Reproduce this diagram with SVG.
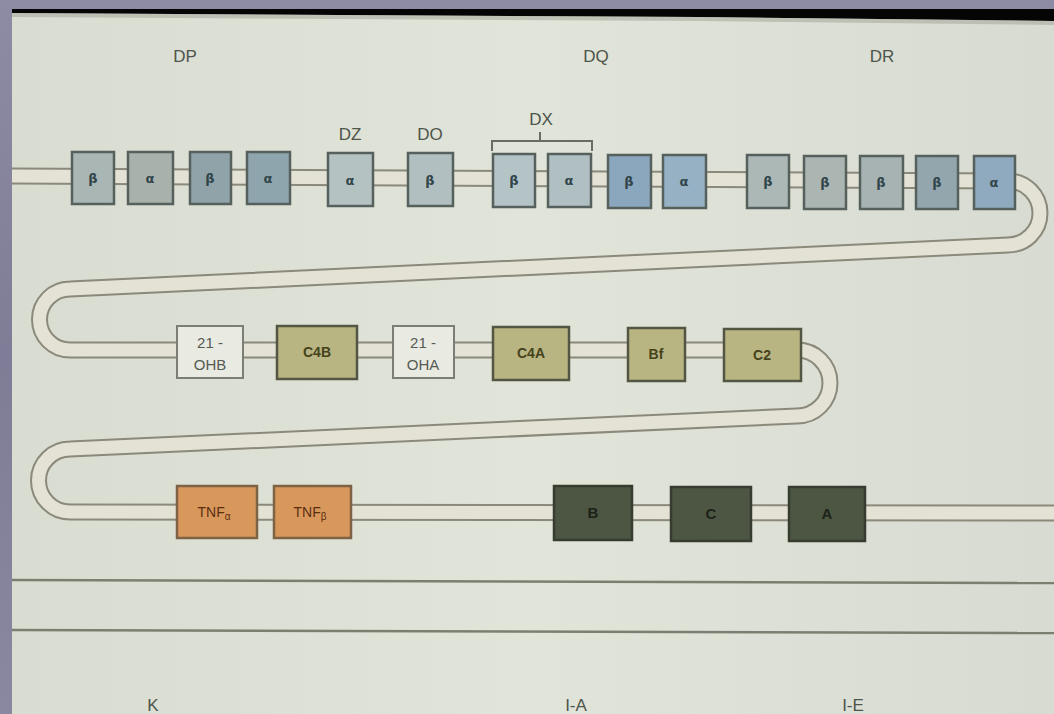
<svg xmlns="http://www.w3.org/2000/svg" width="1054" height="714" viewBox="0 0 1054 714">
<defs>
<linearGradient id="bg" x1="0" y1="0" x2="1" y2="0">
<stop offset="0" stop-color="#d9dcd1"/>
<stop offset="0.5" stop-color="#e1e4d9"/>
<stop offset="1" stop-color="#d8dbd1"/>
</linearGradient>
<linearGradient id="frame" x1="0" y1="0" x2="0" y2="1">
<stop offset="0" stop-color="#8e8ba4"/>
<stop offset="0.5" stop-color="#7f7c97"/>
<stop offset="1" stop-color="#8a87a0"/>
</linearGradient>
<style>
.lbl{font-family:"Liberation Sans",Arial,sans-serif;font-size:17px;fill:#4e554b;text-anchor:middle}
.bx{stroke:#56605c;stroke-width:2.5}
.gk{font-family:"DejaVu Sans",sans-serif;font-size:13px;fill:#30454a;text-anchor:middle;font-weight:bold}
.wt{fill:#e9ebe3;stroke:#7a7e74;stroke-width:2}
.wt-t{font-family:"Liberation Sans",Arial,sans-serif;font-size:15px;fill:#555a52;text-anchor:middle}
.ol{fill:#b8b582;stroke:#545644;stroke-width:2.5}
.ol-t{font-family:"Liberation Sans",Arial,sans-serif;font-size:14px;fill:#45421c;text-anchor:middle;font-weight:bold}
.or{fill:#d8975b;stroke:#7d6243;stroke-width:2.5}
.or-t{font-family:"Liberation Sans",Arial,sans-serif;font-size:14px;fill:#5a2e10;text-anchor:middle}
.dk{fill:#4c5643;stroke:#363d30;stroke-width:2.5}
.dk-t{font-family:"Liberation Sans",Arial,sans-serif;font-size:15px;fill:#1c2217;text-anchor:middle;font-weight:bold}
.trk-o{fill:none;stroke:#8a897a;stroke-width:17}
.trk-i{fill:none;stroke:#e4e2d5;stroke-width:13}
.rule{stroke:#7b7f70;stroke-width:2.5;fill:none}
</style>
</defs>
<rect x="0" y="0" width="1054" height="714" fill="url(#frame)"/>
<rect x="12" y="9" width="1042" height="705" fill="url(#bg)"/>
<polygon points="12,9 1054,9 1054,21 700,17 12,13" fill="#050505"/>
<polygon points="12,13 700,17 1054,21 1054,25 700,21 12,17" fill="#a9ac9e" opacity="0.6"/>

<g id="connectors">
<path class="trk-o" d="M12,176 L1008,181 A32,32 0 0 1 1008,245 L70,289 A30.5,30.5 0 0 0 70,350 L797,350 A33,33 0 0 1 797,416 L70,449 A31.5,31.5 0 0 0 70,512 L1054,513"/>
<path class="trk-i" d="M12,176 L1008,181 A32,32 0 0 1 1008,245 L70,289 A30.5,30.5 0 0 0 70,350 L797,350 A33,33 0 0 1 797,416 L70,449 A31.5,31.5 0 0 0 70,512 L1054,513"/>
<path class="rule" d="M12,580 L1054,583"/>
<path class="rule" d="M12,630 L1054,633"/>
<path d="M492,151 V141 H592 V151 M540,141 V132" fill="none" stroke="#686c62" stroke-width="2"/>
</g>

<g id="labels">
<text class="lbl" x="185" y="62">DP</text>
<text class="lbl" x="596" y="62">DQ</text>
<text class="lbl" x="882" y="62">DR</text>
<text class="lbl" x="350" y="140">DZ</text>
<text class="lbl" x="430" y="140">DO</text>
<text class="lbl" x="541" y="125">DX</text>
<text class="lbl" x="153" y="711">K</text>
<text class="lbl" x="576" y="711">I-A</text>
<text class="lbl" x="853" y="711">I-E</text>
</g>

<g id="dp-b1"><rect class="bx" x="72" y="152" width="42" height="52" fill="#a9b6b3"/><text class="gk" x="93" y="183">β</text></g>
<g id="dp-a1"><rect class="bx" x="128" y="152" width="45" height="52" fill="#a8b1ac"/><text class="gk" x="150" y="183">α</text></g>
<g id="dp-b2"><rect class="bx" x="190" y="152" width="41" height="52" fill="#8fa3a8"/><text class="gk" x="210" y="183">β</text></g>
<g id="dp-a2"><rect class="bx" x="247" y="152" width="43" height="52" fill="#8ea5ae"/><text class="gk" x="268" y="183">α</text></g>
<g id="dz-a"><rect class="bx" x="328" y="153" width="45" height="53" fill="#b5c2c2"/><text class="gk" x="350" y="185">α</text></g>
<g id="do-b"><rect class="bx" x="408" y="153" width="45" height="53" fill="#b1bfc0"/><text class="gk" x="430" y="185">β</text></g>
<g id="dx-b"><rect class="bx" x="493" y="154" width="42" height="53" fill="#b4c3c6"/><text class="gk" x="514" y="185">β</text></g>
<g id="dx-a"><rect class="bx" x="548" y="154" width="43" height="53" fill="#b0bfc2"/><text class="gk" x="569" y="185">α</text></g>
<g id="dq-b"><rect class="bx" x="608" y="155" width="43" height="53" fill="#8aa7bd"/><text class="gk" x="629" y="186">β</text></g>
<g id="dq-a"><rect class="bx" x="663" y="155" width="43" height="53" fill="#96b1c4"/><text class="gk" x="684" y="186">α</text></g>
<g id="dr-b1"><rect class="bx" x="747" y="155" width="42" height="53" fill="#abb8b6"/><text class="gk" x="768" y="186">β</text></g>
<g id="dr-b2"><rect class="bx" x="804" y="156" width="42" height="53" fill="#abb6b3"/><text class="gk" x="825" y="187">β</text></g>
<g id="dr-b3"><rect class="bx" x="860" y="156" width="43" height="53" fill="#a6b3b2"/><text class="gk" x="881" y="187">β</text></g>
<g id="dr-b4"><rect class="bx" x="916" y="156" width="42" height="53" fill="#93a6ae"/><text class="gk" x="937" y="187">β</text></g>
<g id="dr-a"><rect class="bx" x="974" y="156" width="41" height="53" fill="#8fa9be"/><text class="gk" x="994" y="187">α</text></g>

<g id="ohb"><rect class="wt" x="177" y="326" width="66" height="52"/><text class="wt-t" x="210" y="348">21 -</text><text class="wt-t" x="210" y="370">OHB</text></g>
<g id="c4b"><rect class="ol" x="277" y="326" width="80" height="53"/><text class="ol-t" x="317" y="357">C4B</text></g>
<g id="oha"><rect class="wt" x="393" y="326" width="61" height="52"/><text class="wt-t" x="423" y="348">21 -</text><text class="wt-t" x="423" y="370">OHA</text></g>
<g id="c4a"><rect class="ol" x="493" y="327" width="76" height="53" fill="#bcb986"/><text class="ol-t" x="531" y="358">C4A</text></g>
<g id="bf"><rect class="ol" x="628" y="328" width="57" height="53"/><text class="ol-t" x="656" y="359">Bf</text></g>
<g id="c2"><rect class="ol" x="724" y="329" width="77" height="52" fill="#bab380"/><text class="ol-t" x="762" y="360">C2</text></g>

<g id="tnfa"><rect class="or" x="177" y="486" width="80" height="52"/><text class="or-t" x="214" y="517">TNF<tspan font-size="10" dy="3">α</tspan></text></g>
<g id="tnfb"><rect class="or" x="274" y="486" width="77" height="52"/><text class="or-t" x="310" y="517">TNF<tspan font-size="10" dy="3">β</tspan></text></g>
<g id="b"><rect class="dk" x="554" y="486" width="78" height="54"/><text class="dk-t" x="593" y="518">B</text></g>
<g id="c"><rect class="dk" x="671" y="487" width="80" height="54"/><text class="dk-t" x="711" y="519">C</text></g>
<g id="a"><rect class="dk" x="789" y="487" width="76" height="54" fill="#4a5040"/><text class="dk-t" x="827" y="519">A</text></g>
</svg>
